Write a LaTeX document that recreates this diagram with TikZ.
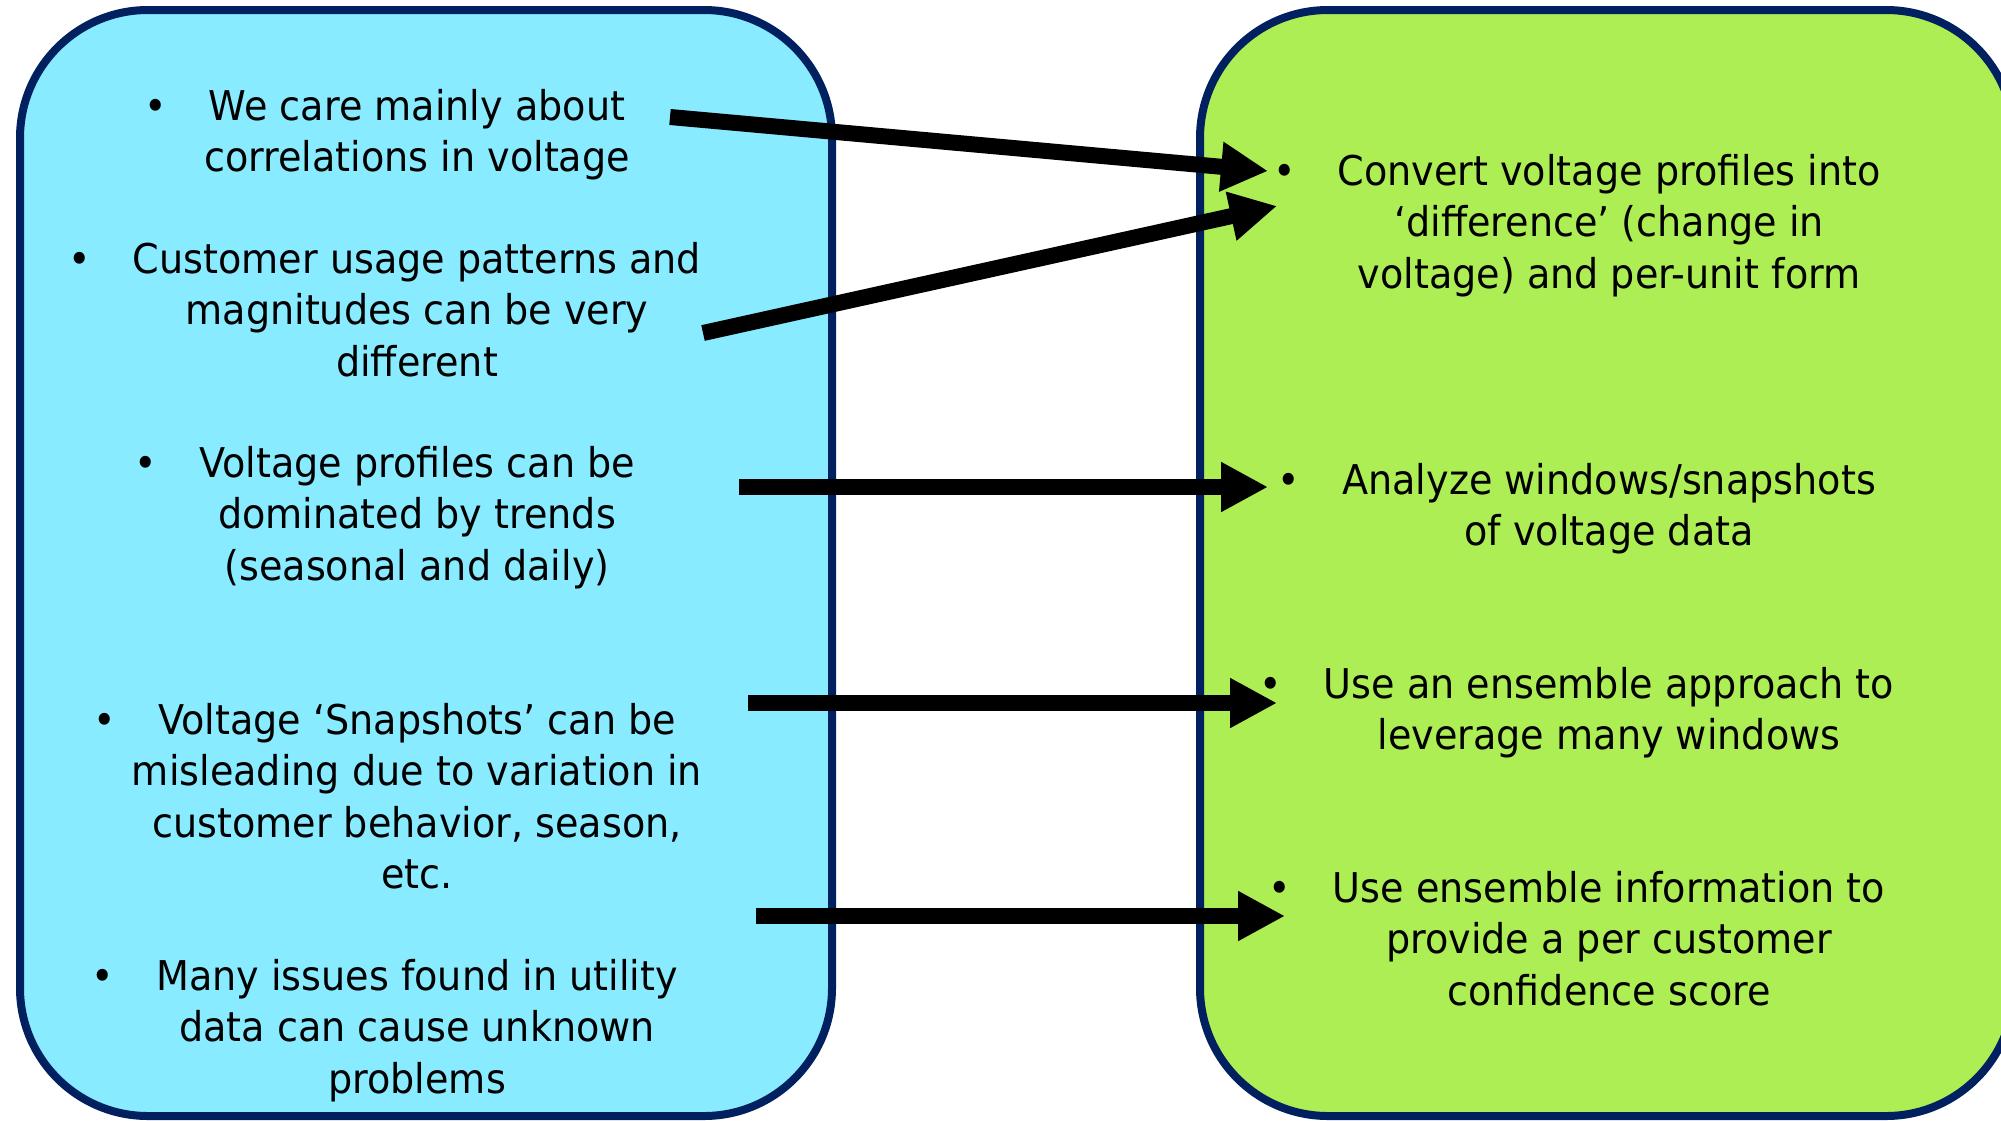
\documentclass[tikz,border=0pt]{standalone}
\usepackage{fontspec}
\setmainfont[FakeStretch=0.93]{DejaVu Sans}
\usetikzlibrary{arrows.meta, positioning}

\definecolor{boxline}{HTML}{002060}
\definecolor{probcyan}{HTML}{88EBFF}
\definecolor{fixgreen}{HTML}{ADEE55}

\newcommand{\bul}{\strut\llap{•\hspace{21pt}}}

\begin{document}
\begin{tikzpicture}[x=0.5pt, y=-0.5pt,
  panel/.style={rectangle, rounded corners=64pt, draw=boxline, line width=4pt, minimum height=553pt},
  item/.style={anchor=north, inner sep=0pt, align=center, font=\fontsize{20.5}{25.75}\selectfont},
  fat/.style={line width=8pt, -{Triangle[length=23.5pt, width=23.5pt]}}]
  \useasboundingbox (0,0) rectangle (2001,1120);

  % the two panels
  \node[panel, fill=probcyan, minimum width=406pt] (probs) at (426,563) {};
  \node[panel, fill=fixgreen, minimum width=407pt] (fixes) at (1607,563) {};

  % left: issues
  \node[item] (p1) at (417,84) {\bul We care mainly about\\correlations in voltage};
  \node[item] (p2) at (417,237) {\bul Customer usage patterns and\\magnitudes can be very\\different};
  \node[item] (p3) at (417,441) {\bul Voltage profiles can be\\dominated by trends\\(seasonal and daily)};
  \node[item] (p4) at (417,698) {\bul Voltage ‘Snapshots’ can be\\misleading due to variation in\\customer behavior, season,\\etc.};
  \node[item] (p5) at (417,954) {\bul Many issues found in utility\\data can cause unknown\\problems};

  % right: approach
  \node[item] (s1) at (1609,149) {\bul Convert voltage profiles into\\‘difference’ (change in\\voltage) and per-unit form};
  \node[item] (s2) at (1609,458) {\bul Analyze windows/snapshots\\of voltage data};
  \node[item] (s3) at (1609,662) {\bul Use an ensemble approach to\\leverage many windows};
  \node[item] (s4) at (1609,866) {\bul Use ensemble information to\\provide a per customer\\confidence score};

  % arrow ends
  \coordinate (t1) at (670,117);
  \coordinate (t2) at (703,333);
  \coordinate (t3) at (739,487);
  \coordinate (t4) at (748,703);
  \coordinate (t5) at (756,916);
  \coordinate (h1) at (1268,171);
  \coordinate (h2) at (1277,206);
  \coordinate (h3) at (1268,487);
  \coordinate (h4) at (1277,703);
  \coordinate (h5) at (1285,916);

  \draw[fat] (t1) -- (h1);
  \draw[fat] (t2) -- (h2);
  \draw[fat] (t3) -- (h3);
  \draw[fat] (t4) -- (h4);
  \draw[fat] (t5) -- (h5);
\end{tikzpicture}
\end{document}
